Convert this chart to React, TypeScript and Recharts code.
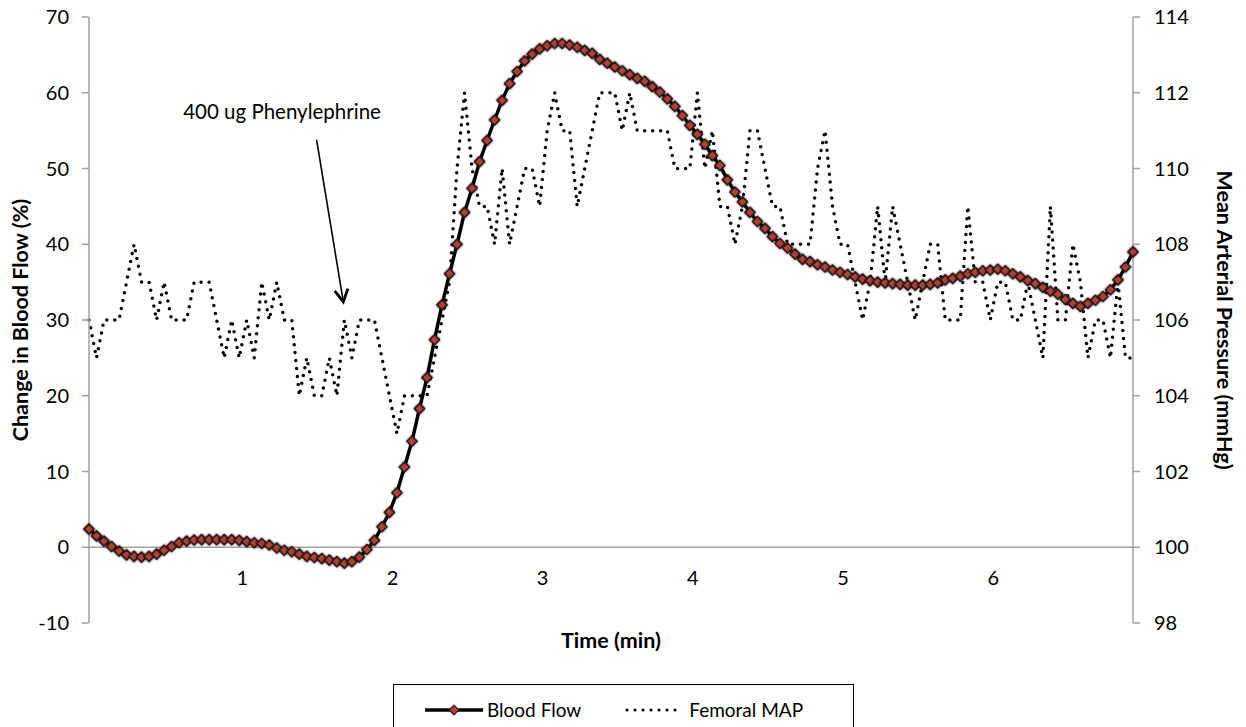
import { ComposedChart, Line, XAxis, YAxis, ReferenceLine, ReferenceDot, Legend } from 'recharts';

// one sample every 3 s (0.05 min)
const STEP_MIN = 0.05;
const minuteTicks = [1, 2, 3, 4, 5, 6];
const flowTicks = [-10, 0, 10, 20, 30, 40, 50, 60, 70];
const mapTicks = [98, 100, 102, 104, 106, 108, 110, 112, 114];

// change in blood flow (%)
const bloodFlow = [
  2.4, 1.5, 0.8, 0.1, -0.5, -1.0, -1.2, -1.3, -1.2, -0.9,
  -0.4, 0.1, 0.6, 0.8, 0.95, 1.0, 1.0, 1.0, 1.0, 1.0,
  0.9, 0.75, 0.6, 0.5, 0.3, -0.1, -0.4, -0.6, -0.9, -1.2,
  -1.35, -1.5, -1.7, -1.9, -2.1, -1.9, -1.3, -0.3, 0.9, 2.7,
  4.6, 7.2, 10.6, 14.0, 18.3, 22.4, 27.4, 32.0, 36.1, 40.0,
  44.2, 47.4, 50.9, 53.7, 56.4, 59.0, 61.2, 62.8, 64.2, 65.1,
  65.8, 66.2, 66.5, 66.5, 66.3, 66.0, 65.6, 65.2, 64.4, 63.9,
  63.4, 62.9, 62.4, 61.9, 61.5, 60.8, 60.1, 59.2, 58.2, 57.0,
  55.7, 54.5, 53.2, 51.7, 50.4, 48.5, 46.9, 45.6, 44.2, 43.0,
  42.1, 41.0, 40.1, 39.5, 38.7, 38.0, 37.7, 37.3, 37.0, 36.6,
  36.3, 36.0, 35.7, 35.4, 35.2, 35.0, 34.9, 34.8, 34.7, 34.6,
  34.6, 34.6, 34.7, 34.9, 35.3, 35.5, 35.8, 36.1, 36.3, 36.5,
  36.6, 36.7, 36.5, 36.1, 35.7, 35.2, 34.8, 34.3, 33.8, 33.4,
  32.7, 32.2, 31.8, 32.2, 32.6, 33.1, 34.0, 35.3, 37.0, 39.0,
];

// femoral mean arterial pressure (mmHg)
const femoralMap = [
  106, 105, 106, 106, 106, 107, 108, 107, 107, 106,
  107, 106, 106, 106, 107, 107, 107, 106, 105, 106,
  105, 106, 105, 107, 106, 107, 106, 106, 104, 105,
  104, 104, 105, 104, 106, 105, 106, 106, 106, 105,
  104, 103, 104, 104, 104, 104, 105, 106, 107, 110,
  112, 110, 109, 109, 108, 110, 108, 109, 110, 110,
  109, 111, 112, 111, 111, 109, 110, 111, 112, 112,
  112, 111, 112, 111, 111, 111, 111, 111, 110, 110,
  110, 112, 110, 111, 109, 109, 108, 109, 111, 111,
  110, 109, 109, 108, 108, 108, 108, 110, 111, 109,
  108, 108, 107, 106, 107, 109, 107, 109, 108, 107,
  106, 107, 108, 108, 106, 106, 106, 109, 107, 107,
  106, 107, 107, 106, 106, 107, 106, 105, 109, 106,
  106, 108, 107, 105, 106, 106, 105, 107, 105, 105,
];

const data = bloodFlow.map((flow, i) => ({ t: +(i * STEP_MIN).toFixed(2), flow, map: femoralMap[i] }));
const lastT = data[data.length - 1].t;

const FONT = 'Lato, "Open Sans", sans-serif';
const AXIS_GRAY = '#a0a0a0';
const TICK_FONT = 20;
const TITLE_FONT = 21.5;

function Diamond({ cx, cy }: any) {
  if (cx == null || cy == null) return null;
  const r = 5;
  return (
    <path
      d={`M${cx},${cy - r}L${cx + r},${cy}L${cx},${cy + r}L${cx - r},${cy}Z`}
      fill="#a6443a"
      stroke="#3a1714"
      strokeWidth={1.6}
      strokeLinejoin="round"
      style={{ filter: 'drop-shadow(0 0 1.2px rgba(0,0,0,0.75))' }}
    />
  );
}

function MinuteTick({ x, y, payload }: any) {
  return (
    <text x={x + 3} y={y - 38} textAnchor="middle" fontSize={TICK_FONT} fill="#000" fontFamily={FONT}>
      {payload.value}
    </text>
  );
}

function Arrow({ x1, y1, x2, y2 }: any) {
  const ang = Math.atan2(y2 - y1, x2 - x1);
  const len = 14;
  const p1 = [x2 - len * Math.cos(ang - 0.5), y2 - len * Math.sin(ang - 0.5)];
  const p2 = [x2 - len * Math.cos(ang + 0.5), y2 - len * Math.sin(ang + 0.5)];
  return (
    <g>
      <line x1={x1} y1={y1} x2={x2} y2={y2} stroke="#000" strokeWidth={1.6} />
      <polyline
        points={`${p1[0]},${p1[1]} ${x2},${y2} ${p2[0]},${p2[1]}`}
        fill="none"
        stroke="#000"
        strokeWidth={2.8}
        strokeLinejoin="miter"
      />
    </g>
  );
}

function LegendBox() {
  return (
    <div
      style={{
        boxSizing: 'border-box',
        width: 461,
        height: 60,
        border: '1.5px solid #000',
        display: 'flex',
        alignItems: 'flex-start',
        paddingTop: 13,
        paddingLeft: 31,
        fontFamily: FONT,
        fontSize: 19,
        color: '#000',
      }}
    >
      <svg width={58} height={20} style={{ marginTop: 2 }}>
        <line x1={0} y1={10} x2={58} y2={10} stroke="#000" strokeWidth={3.5} />
        <path d="M29,5.2L33.8,10L29,14.8L24.2,10Z" fill="#a6443a" stroke="#3a1714" strokeWidth={1.2} />
      </svg>
      <span style={{ marginLeft: 4, lineHeight: '24px' }}>Blood Flow</span>
      <svg width={57} height={20} style={{ marginLeft: 44, marginTop: 2 }}>
        <line x1={2} y1={10} x2={56} y2={10} stroke="#000" strokeWidth={3} strokeDasharray="0 8" strokeLinecap="round" />
      </svg>
      <span style={{ marginLeft: 7, lineHeight: '24px' }}>Femoral MAP</span>
    </div>
  );
}

export default function App() {
  return (
    <div style={{ position: 'absolute', left: 0, top: 0, width: 1246, height: 727, overflow: 'hidden', background: '#fff', fontFamily: FONT }}>
      <ComposedChart width={1246} height={727} data={data} margin={{ top: 17, right: 0, bottom: 0, left: 0 }}>
        <XAxis
          dataKey="t"
          type="number"
          domain={[0, lastT]}
          ticks={minuteTicks}
          axisLine={false}
          tickLine={false}
          tickSize={0}
          tickMargin={0}
          height={104}
          tick={<MinuteTick />}
          label={(props: any) => {
            const vb = props.viewBox;
            return (
              <text x={vb.x + vb.width / 2} y={vb.y + 25} textAnchor="middle" fontSize={TITLE_FONT} fontWeight="bold" fill="#000" fontFamily={FONT}>
                Time (min)
              </text>
            );
          }}
        />
        <YAxis
          yAxisId="left"
          orientation="left"
          width={89}
          domain={[-10, 70]}
          ticks={flowTicks}
          allowDataOverflow
          axisLine={{ stroke: AXIS_GRAY, strokeWidth: 1.5 }}
          tickLine={{ stroke: AXIS_GRAY, strokeWidth: 1.5 }}
          tickSize={7}
          tickMargin={13}
          tick={{ fontSize: TICK_FONT, fill: '#000', fontFamily: FONT }}
          label={(props: any) => {
            const vb = props.viewBox;
            const cx = vb.x + 20;
            const cy = vb.y + vb.height / 2;
            return (
              <text transform={`translate(${cx},${cy}) rotate(-90)`} textAnchor="middle" dominantBaseline="central" fontSize={TITLE_FONT} fontWeight="bold" fill="#000" fontFamily={FONT}>
                Change in Blood Flow (%)
              </text>
            );
          }}
        />
        <YAxis
          yAxisId="right"
          orientation="right"
          width={113}
          domain={[98, 114]}
          ticks={mapTicks}
          allowDataOverflow
          axisLine={{ stroke: AXIS_GRAY, strokeWidth: 1.5 }}
          tickLine={{ stroke: AXIS_GRAY, strokeWidth: 1.5 }}
          tickSize={7}
          tickMargin={14}
          tick={{ fontSize: TICK_FONT, fill: '#000', fontFamily: FONT }}
          label={(props: any) => {
            const vb = props.viewBox;
            const cx = vb.x + 92;
            const cy = vb.y + vb.height / 2;
            return (
              <text transform={`translate(${cx},${cy}) rotate(90)`} textAnchor="middle" dominantBaseline="central" fontSize={TITLE_FONT} fontWeight="bold" fill="#000" fontFamily={FONT}>
                Mean Arterial Pressure (mmHg)
              </text>
            );
          }}
        />
        <ReferenceLine yAxisId="left" y={0} stroke={AXIS_GRAY} strokeWidth={1.5} />
        <Line
          yAxisId="left"
          dataKey="flow"
          name="Blood Flow"
          type="linear"
          stroke="#000"
          strokeWidth={3.5}
          dot={<Diamond />}
          activeDot={false}
          isAnimationActive={false}
        />
        <Line
          yAxisId="right"
          dataKey="map"
          name="Femoral MAP"
          type="linear"
          stroke="#000"
          strokeWidth={3.5}
          strokeDasharray="0 8"
          strokeLinecap="round"
          dot={false}
          activeDot={false}
          isAnimationActive={false}
        />
        <ReferenceLine
          yAxisId="left"
          segment={[{ x: 1.515, y: 53.8 }, { x: 1.693, y: 32.4 }]}
          shape={<Arrow />}
        />
        <ReferenceDot
          yAxisId="left"
          x={1.285}
          y={57.6}
          r={0}
          fill="none"
          stroke="none"
          label={(props: any) => {
            const vb = props.viewBox;
            const cx = vb.x + (vb.width || 0) / 2;
            const cy = vb.y + (vb.height || 0) / 2;
            return (
              <text x={cx} y={cy} textAnchor="middle" dominantBaseline="central" fontSize={20.5} fill="#000" fontFamily={FONT}>
                400 ug Phenylephrine
              </text>
            );
          }}
        />
        <Legend
          layout="horizontal"
          verticalAlign="middle"
          align="center"
          wrapperStyle={{ position: 'absolute', left: 393, top: 684, width: 461, height: 60 }}
          content={() => <LegendBox />}
        />
      </ComposedChart>
    </div>
  );
}
